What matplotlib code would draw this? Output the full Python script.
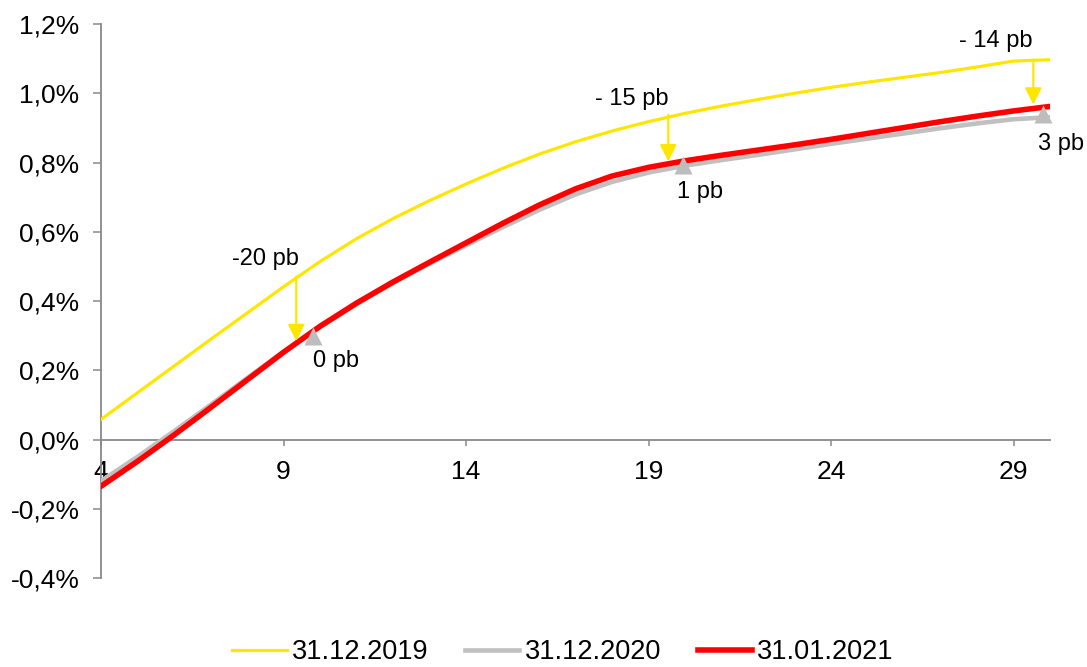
from __future__ import annotations

import matplotlib

matplotlib.use("Agg")
import matplotlib.pyplot as plt
from matplotlib.ticker import FixedLocator, FuncFormatter


# maturities (years) and yields (%)
MATURITY = [4, 5, 6, 7, 8, 9, 10, 11, 12, 13, 14, 15, 16, 17,
            18, 19, 20, 21, 22, 23, 24, 25, 26, 27, 28, 29, 30]
YIELD_2019 = [0.058, 0.135, 0.212, 0.289, 0.365, 0.441, 0.514, 0.580, 0.638, 0.690, 0.738, 0.783, 0.824, 0.860,
              0.891, 0.918, 0.942, 0.963, 0.982, 1.000, 1.017, 1.032, 1.046, 1.060, 1.076, 1.093, 1.097]
YIELD_2020 = [-0.120, -0.050, 0.024, 0.100, 0.177, 0.253, 0.325, 0.391, 0.452, 0.508, 0.561, 0.613, 0.663, 0.708,
              0.744, 0.771, 0.791, 0.807, 0.822, 0.838, 0.854, 0.869, 0.884, 0.899, 0.913, 0.925, 0.931]
YIELD_2021 = [-0.135, -0.063, 0.013, 0.092, 0.172, 0.252, 0.327, 0.394, 0.455, 0.512, 0.568, 0.624, 0.677, 0.724,
              0.761, 0.786, 0.805, 0.821, 0.836, 0.851, 0.867, 0.884, 0.901, 0.918, 0.934, 0.949, 0.962]

SERIES_LABELS = ["31.12.2019", "31.12.2020", "31.01.2021"]

# gray triangle markers on the 31.12.2020 curve
MARKER_X = [9.81, 19.95, 29.8]
MARKER_Y = [0.298, 0.794, 0.940]

# yellow arrows: change since 31.12.2019
ARROW_X = [9.35, 19.54, 29.54]
ARROW_FROM = [0.471, 0.938, 1.097]
ARROW_TO = [0.284, 0.803, 0.967]
ARROW_TEXT = ["-20 pb", "- 15 pb", "- 14 pb"]
ARROW_TEXT_X = [8.51, 18.54, 28.52]
ARROW_TEXT_Y = [0.505, 0.967, 1.134]

# month change labels next to the markers
MONTH_TEXT = ["0 pb", "1 pb", "3 pb"]
MONTH_TEXT_X = [10.43, 20.41, 30.31]
MONTH_TEXT_Y = [0.208, 0.698, 0.837]

X_TICKS = [4, 9, 14, 19, 24, 29]
Y_TICKS = [-0.4, -0.2, 0.0, 0.2, 0.4, 0.6, 0.8, 1.0, 1.2]

YELLOW = "#FFE600"
GRAY = "#C0C0C0"
RED = "#FF0000"
AXIS = "#898989"

plt.rcParams["font.family"] = ["Liberation Sans", "DejaVu Sans"]


def pct(v, _pos=None) -> str:
    return f"{v:.1f}%".replace(".", ",").replace("-0,0", "0,0")


def main() -> None:
    fig = plt.figure(figsize=(10.87, 6.67), dpi=100)
    ax = fig.add_axes([0.0929, 0.1334, 0.8732, 0.8306])

    ax.plot(MATURITY, YIELD_2019, color=YELLOW, lw=2.3, label=SERIES_LABELS[0], zorder=3)
    ax.plot(MATURITY, YIELD_2020, color=GRAY, lw=3.3, label=SERIES_LABELS[1], zorder=3)
    ax.plot(MATURITY, YIELD_2021, color=RED, lw=4.0, label=SERIES_LABELS[2], zorder=4)
    ax.plot(MARKER_X, MARKER_Y, ls="none", marker="^", ms=13, color="#BDBDBD", mec="none", zorder=5, clip_on=False)

    for x, y0, y1 in zip(ARROW_X, ARROW_FROM, ARROW_TO):
        ax.annotate(
            "", xy=(x, y1), xytext=(x, y0),
            arrowprops=dict(arrowstyle="-|>,head_length=1.0,head_width=0.5", color=YELLOW, lw=1.6,
                            shrinkA=0, shrinkB=0),
            zorder=6,
        )
    for txt, x, y in zip(ARROW_TEXT, ARROW_TEXT_X, ARROW_TEXT_Y):
        ax.text(x, y, txt, ha="center", va="baseline", fontsize=17, clip_on=False)
    for txt, x, y in zip(MONTH_TEXT, MONTH_TEXT_X, MONTH_TEXT_Y):
        ax.text(x, y, txt, ha="center", va="baseline", fontsize=17, clip_on=False)

    ax.set_xlim(4, 30)
    ax.set_ylim(-0.4, 1.2)
    ax.xaxis.set_major_locator(FixedLocator(X_TICKS))
    ax.yaxis.set_major_locator(FixedLocator(Y_TICKS))
    ax.yaxis.set_major_formatter(FuncFormatter(pct))

    for side in ("top", "right"):
        ax.spines[side].set_visible(False)
    ax.spines["bottom"].set_position(("data", 0))
    for side in ("left", "bottom"):
        ax.spines[side].set_color(AXIS)
        ax.spines[side].set_linewidth(1.3)
    ax.tick_params(axis="y", direction="out", length=5.5, width=1.1, color=AXIS, pad=10, labelsize=19)
    ax.tick_params(axis="x", direction="out", length=4.5, width=1.1, color=AXIS, pad=10, labelsize=19)

    fig.legend(
        loc="center", bbox_to_anchor=(0.518, 0.022), ncol=3, frameon=False, fontsize=19.5,
        handlelength=2.0, handletextpad=0.2, columnspacing=1.35,
    )
    fig.savefig("out.png", dpi=100, facecolor="white")
    plt.close(fig)


if __name__ == "__main__":
    main()
